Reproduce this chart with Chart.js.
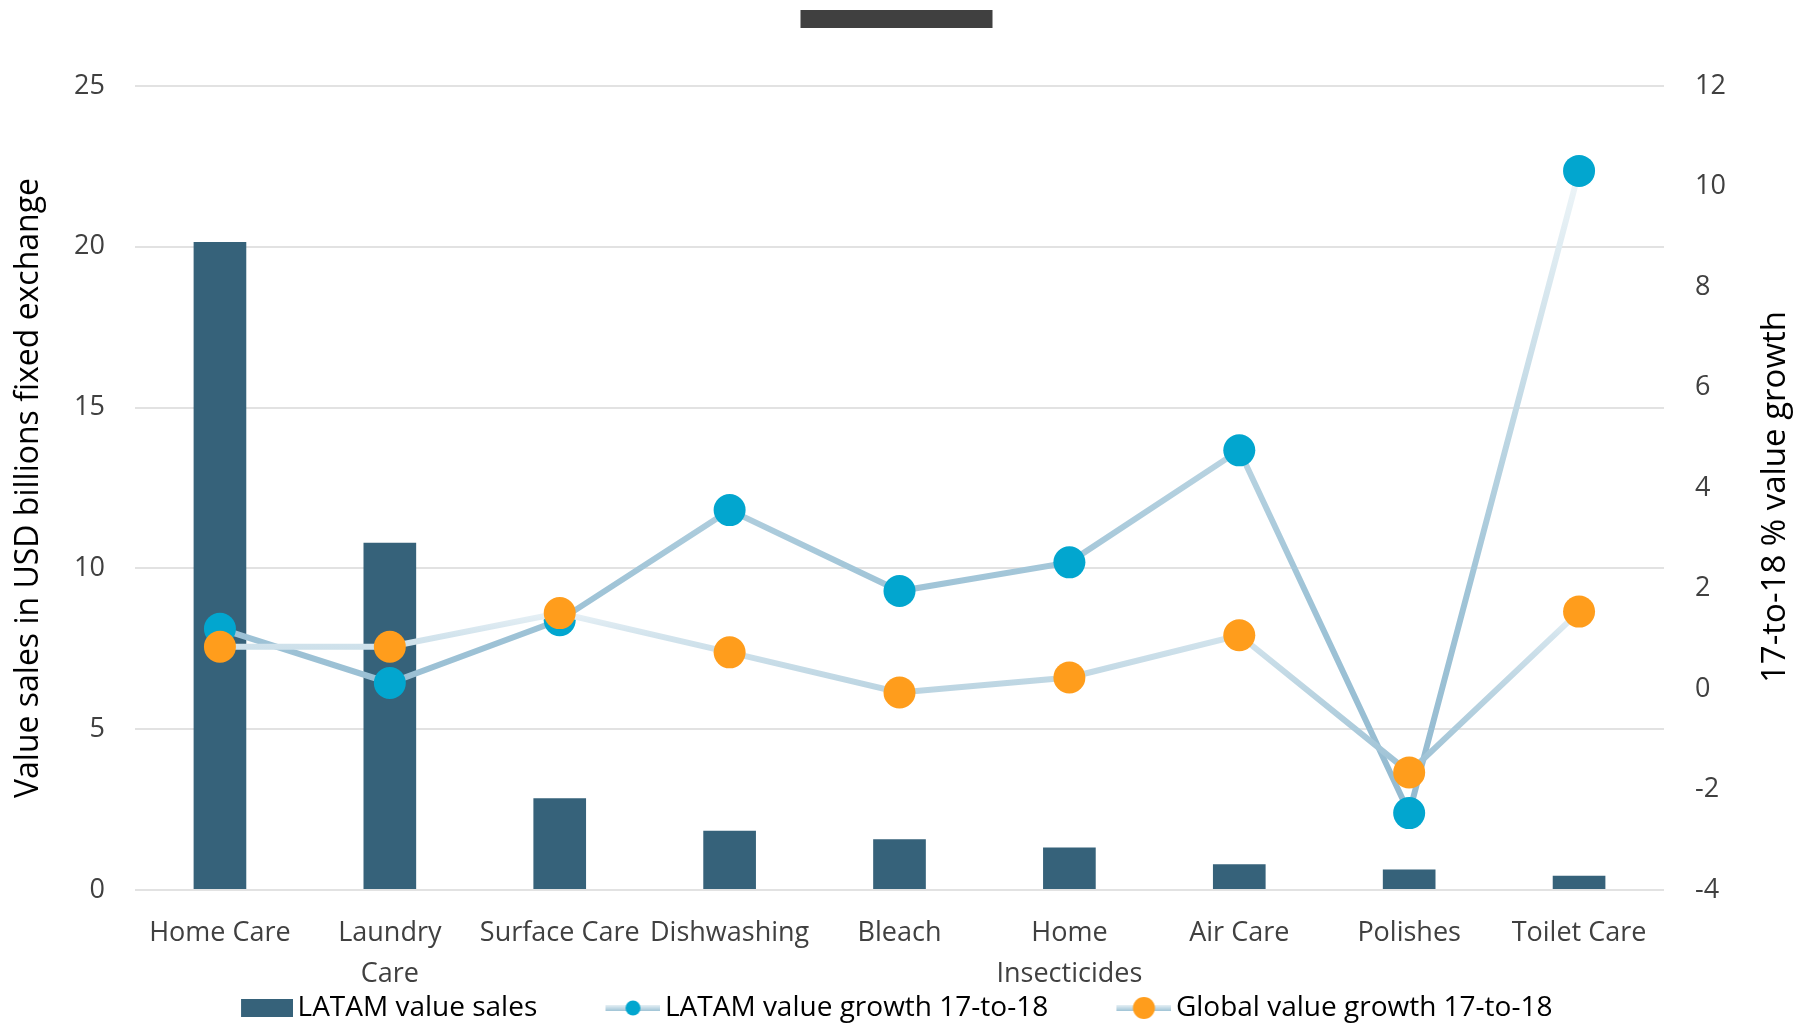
<!DOCTYPE html>
<html>
<head>
<meta charset="utf-8">
<script src="https://cdn.jsdelivr.net/npm/chart.js@4/dist/chart.umd.min.js"></script>
<style>
    html, body { margin: 0; padding: 0; background: #fff; }
    #wrap { width: 1799px; height: 1023px; position: relative; }
</style>
</head>
<body>
<div id="wrap"><canvas id="salesChart"></canvas></div>
<script>
// Categories and values (sales in USD bn, growth in %)
const categories = ['Home Care', ['Laundry', 'Care'], 'Surface Care', 'Dishwashing', 'Bleach',
    ['Home', 'Insecticides'], 'Air Care', 'Polishes', 'Toilet Care'];
const latamSales = [20.15, 10.8, 2.85, 1.84, 1.58, 1.32, 0.8, 0.64, 0.44];
const latamGrowth = [1.2, 0.12, 1.37, 3.56, 1.95, 2.52, 4.75, -2.47, 10.31];
const globalGrowth = [0.84, 0.84, 1.51, 0.73, -0.07, 0.23, 1.07, -1.66, 1.54];
const seriesNames = ['LATAM value sales', 'LATAM value growth 17-to-18', 'Global value growth 17-to-18'];
const salesTicks = [0, 25, 5];   // min, max, step
const growthTicks = [-4, 12, 2];
const growthTitle = '17-to-18 % value growth';

const colors = {
    bar: '#36627a',
    latamDot: '#02a6cf',
    globalDot: '#ff9d1c',
    grid: '#e2e2e2',
    tick: '#404040'
};

// vertical gradients for the two growth lines: [value, colour]
const latamStops = [[-2.5, '#93bad0'], [2, '#a0c4d7'], [5.4, '#c0d8e4'], [10.3, '#eef5f8']];
const globalStops = [[-1.7, '#9bc0d4'], [0, '#bcd5e2'], [1.07, '#d3e4ed'], [1.55, '#e8f1f6']];

function lineGradient(chart, stops) {
    const { ctx, chartArea, scales } = chart;
    if (!chartArea) return stops[0][1];
    const y = scales.y1;
    const lo = stops[0][0], hi = stops[stops.length - 1][0];
    const g = ctx.createLinearGradient(0, y.getPixelForValue(lo), 0, y.getPixelForValue(hi));
    stops.forEach(([v, c]) => g.addColorStop((v - lo) / (hi - lo), c));
    return g;
}

// legend icons
function barIcon() {
    const c = document.createElement('canvas');
    c.width = 56; c.height = 22;
    const x = c.getContext('2d');
    x.fillStyle = colors.bar;
    x.fillRect(4, 2, 52, 18);
    return c;
}

function lineIcon(dot, r) {
    const c = document.createElement('canvas');
    c.width = 56; c.height = 26;
    const x = c.getContext('2d');
    const g = x.createLinearGradient(0, 10, 0, 16);
    g.addColorStop(0, '#e6f0f5');
    g.addColorStop(1, '#9fc3d6');
    x.fillStyle = g;
    x.fillRect(1, 10, 55, 6);
    x.fillStyle = dot;
    x.beginPath();
    x.arc(28.5, 13, r, 0, Math.PI * 2);
    x.fill();
    return c;
}

const legendIcons = [barIcon(), lineIcon(colors.latamDot, 7.5), lineIcon(colors.globalDot, 11)];
const legendGap = '          ';

// dark title strip above the plot, and the right axis title read bottom-to-top
const extras = {
    id: 'extras',
    afterDraw(chart) {
        const ctx = chart.ctx;
        const y1 = chart.scales.y1;
        ctx.save();
        ctx.fillStyle = '#404040';
        ctx.fillRect(chart.width / 2 - 99, 10, 192, 18);

        ctx.translate(y1.right - 23, (chart.chartArea.top + chart.chartArea.bottom) / 2 + 9);
        ctx.rotate(-Math.PI / 2);
        ctx.font = "33px 'Open Sans', sans-serif";
        ctx.fillStyle = '#000';
        ctx.textAlign = 'center';
        ctx.textBaseline = 'middle';
        ctx.fillText(growthTitle, 0, 0);
        ctx.restore();
    }
};

Chart.defaults.font.family = "'Open Sans', sans-serif";
Chart.defaults.color = colors.tick;

const ctx = document.getElementById('salesChart');
new Chart(ctx, {
    type: 'bar',
    data: {
        labels: categories,
        datasets: [
            {
                label: seriesNames[0],
                data: latamSales,
                backgroundColor: colors.bar,
                yAxisID: 'y',
                barPercentage: 0.31,
                categoryPercentage: 1,
                order: 3
            },
            {
                type: 'line',
                label: seriesNames[1],
                data: latamGrowth,
                yAxisID: 'y1',
                borderColor: (c) => lineGradient(c.chart, latamStops),
                borderWidth: 6,
                pointRadius: 16,
                pointHoverRadius: 16,
                pointBackgroundColor: colors.latamDot,
                pointBorderWidth: 0,
                tension: 0,
                order: 2
            },
            {
                type: 'line',
                label: seriesNames[2],
                data: globalGrowth,
                yAxisID: 'y1',
                borderColor: (c) => lineGradient(c.chart, globalStops),
                borderWidth: 6,
                pointRadius: 16,
                pointHoverRadius: 16,
                pointBackgroundColor: colors.globalDot,
                pointBorderWidth: 0,
                tension: 0,
                order: 1
            }
        ]
    },
    options: {
        responsive: true,
        maintainAspectRatio: false,
        animation: false,
        layout: {
            padding: { top: 86, left: 0, right: 0, bottom: -9 }
        },
        plugins: {
            legend: {
                position: 'bottom',
                labels: {
                    usePointStyle: true,
                    pointStyleWidth: 37,
                    padding: 4,
                    font: { size: 28 },
                    color: colors.tick,
                    generateLabels: (chart) => chart.data.datasets.map((ds, i, all) => ({
                        text: i < all.length - 1 ? ds.label + legendGap : ds.label,
                        pointStyle: legendIcons[i],
                        fillStyle: 'transparent',
                        strokeStyle: 'transparent',
                        lineWidth: 0,
                        hidden: false,
                        datasetIndex: i
                    }))
                }
            },
            tooltip: { enabled: false }
        },
        scales: {
            x: {
                grid: { display: false, drawTicks: false },
                border: { display: false },
                ticks: {
                    autoSkip: false,
                    maxRotation: 0,
                    padding: 23.5,
                    font: { size: 27, lineHeight: 1.5 },
                    color: colors.tick
                },
                afterFit: (scale) => { scale.height = 100; }
            },
            y: {
                position: 'left',
                min: salesTicks[0],
                max: salesTicks[1],
                ticks: {
                    stepSize: salesTicks[2],
                    padding: 30,
                    font: { size: 27 },
                    color: colors.tick
                },
                grid: { color: colors.grid, lineWidth: 2, drawTicks: false },
                border: { display: false },
                title: {
                    display: true,
                    text: 'Value sales in USD billions fixed exchange',
                    color: '#000',
                    font: { size: 32 },
                    padding: { top: 10, bottom: 0 }
                },
                afterFit: (scale) => { scale.width = 135; }
            },
            y1: {
                position: 'right',
                min: growthTicks[0],
                max: growthTicks[1],
                ticks: {
                    stepSize: growthTicks[2],
                    padding: 31,
                    font: { size: 27 },
                    color: colors.tick
                },
                grid: { display: false, drawTicks: false },
                border: { display: false },
                afterFit: (scale) => { scale.width = 135; }
            }
        }
    },
    plugins: [extras]
});
</script>
</body>
</html>
